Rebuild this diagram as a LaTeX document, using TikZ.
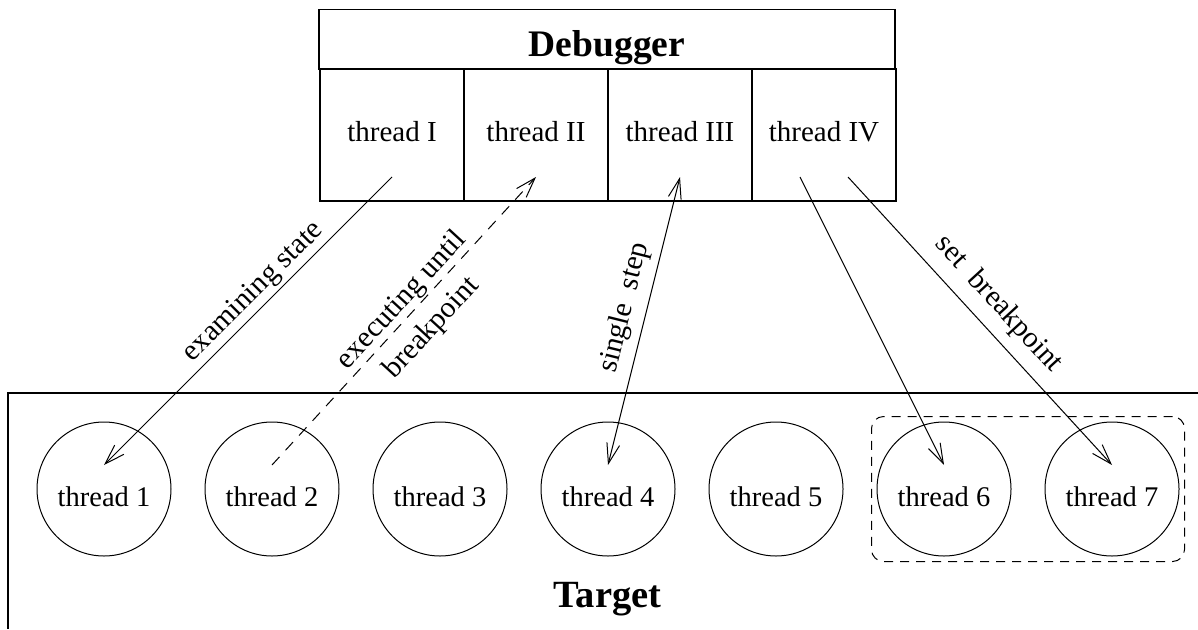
\documentclass[tikz,border=0pt]{standalone}
\usepackage{fontspec}
\setmainfont{Liberation Serif}
\usetikzlibrary{arrows.meta,calc,fit}
\begin{document}
\begin{tikzpicture}[x=1pt,y=-1pt,line width=1pt,
  lbl/.style={font=\fontsize{29.5}{41}\selectfont, inner sep=3pt},
  thr/.style={draw, circle, minimum size=134pt, inner sep=0pt, font=\fontsize{28.5}{34}\selectfont, text height=35.4pt, text depth=0pt},
  col/.style={draw, rectangle, minimum width=144pt, minimum height=132pt, inner sep=0pt, font=\fontsize{29}{34}\selectfont, text height=20pt, text depth=6.6pt},
  ttl/.style={font=\bfseries\fontsize{37.5}{44}\selectfont},
  barb/.tip={Straight Barb[length=20pt,width=13pt]},
  arr/.style={-barb},
  dblarr/.style={barb-barb},
  grpbox/.style={draw, dash pattern=on 9pt off 7pt, rounded corners=12pt, inner sep=5pt},
  frame/.style={line width=1.2pt}
]
\fill[white] (0,0) rectangle (1198,629);
\useasboundingbox (0,0) rectangle (1198,629);

% Debugger
\node[draw, frame, minimum width=576pt, minimum height=60pt, inner sep=0pt, ttl, text height=34pt, text depth=0pt] (db) at (607,39.3) {Debugger};
\node[col, frame] (d1) at (392,135) {thread I};
\node[col, frame] (d2) at (536,135) {thread II};
\node[col, frame] (d3) at (680,135) {thread III};
\node[col, frame] (d4) at (824,135) {thread IV};

% Target
\draw[frame] (1198,393) -- (8,393) -- (8,629);
\node[ttl, anchor=base, inner sep=0pt, font=\bfseries\fontsize{38.5}{44}\selectfont] (tg) at (607.5,607) {Target};

\node[thr] (t1) at (104,489) {thread 1};
\node[thr] (t2) at (272,489) {thread 2};
\node[thr] (t3) at (440,489) {thread 3};
\node[thr] (t4) at (608,489) {thread 4};
\node[thr] (t5) at (776,489) {thread 5};
\node[thr] (t6) at (944,489) {thread 6};
\node[thr] (t7) at (1112,489) {thread 7};
\node[grpbox, fit=(t6)(t7)] (grp) {};

% connectors
\coordinate (s1) at ($(d1.center)+(0,42)$);
\coordinate (e1) at ($(t1.center)+(0,-24)$);
\draw[arr] (s1) -- node[lbl, sloped, above=0pt, pos=0.44] {examining state} (e1);

\coordinate (s2) at ($(t2.center)+(0,-24)$);
\coordinate (e2) at ($(d2.center)+(0,42)$);
\draw[arr, dash pattern=on 11pt off 9pt] (s2) -- (e2);
\coordinate (m2) at ($(s2)!0.535!(e2)$);
\node[lbl, align=center, rotate=47.4] (l2) at ($(m2)!5pt!-90:(e2)$) {executing until\\breakpoint};

\coordinate (s3) at ($(t4.center)+(0,-24)$);
\coordinate (e3) at ($(d3.center)+(0,42)$);
\draw[dblarr] (s3) -- node[lbl, sloped, above=5pt, pos=0.528] {single~~step} (e3);

\coordinate (s4) at ($(d4.center)+(-24,42)$);
\coordinate (e4) at ($(t6.center)+(0,-24)$);
\draw[arr] (s4) -- (e4);

\coordinate (s5) at ($(d4.center)+(24,42)$);
\coordinate (e5) at ($(t7.center)+(0,-24)$);
\draw[arr] (s5) -- node[lbl, sloped, above=8pt, pos=0.5] {set~~breakpoint} (e5);
\end{tikzpicture}
\end{document}
